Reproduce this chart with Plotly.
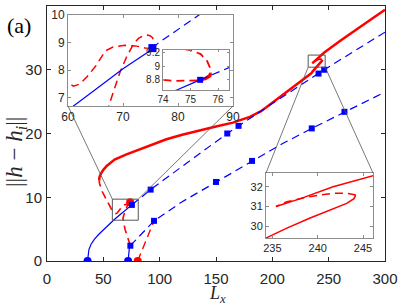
import plotly.graph_objects as go

W, H = 399, 307

# ---------------- data ----------------
# blue branch 1 (stable part, solid)
B1_SOLID_X = [36, 36.3, 37.2, 39, 42, 46, 50, 55, 60, 65, 70, 74.5, 75.35]
B1_SOLID_Y = [0, 1.0, 1.8, 2.6, 3.4, 4.2, 4.9, 5.75, 6.55, 7.3, 8.05, 8.65, 8.8]
# blue branch 1 (unstable part, dashed)
B1_DASH_X = [75.35, 76.4, 83.8, 92, 125, 160, 200, 246, 300]
B1_DASH_Y = [8.8, 8.98, 10.0, 11.2, 15.5, 20.0, 24.7, 30.0, 35.9]
B1_SQ_X = [75.35, 92, 160, 170, 241, 246]
B1_SQ_Y = [8.8, 11.2, 20.0, 21.2, 29.4, 30.0]

# blue branch 2
B2_SOLID_X = [72, 72.3, 73.0, 74]
B2_SOLID_Y = [0, 1.1, 1.9, 2.4]
B2_DASH_X = [74, 95, 120, 150, 182, 210, 235, 264, 300]
B2_DASH_Y = [2.4, 6.3, 9.3, 12.4, 15.7, 18.5, 20.8, 23.4, 26.5]
B2_SQ_X = [74, 95, 150, 182, 235, 264]
B2_SQ_Y = [2.4, 6.3, 12.4, 15.7, 20.8, 23.4]

BLUE_DOT_X = [36, 72]
BLUE_DOT_Y = [0, 0]

# red branch A (dashed, from Lx axis to lower blue branch)
RA_X = [80.5, 84, 88, 92, 95]
RA_Y = [0, 1.6, 3.3, 5.0, 6.3]
RED_DOT_X = [80.5, 73.8]
RED_DOT_Y = [0, 9.2]

# red branch B
R1_X = [74.0, 72.8, 71.0, 69.2, 68.0, 67.4, 68.3, 69.5, 70.7, 71.9, 72.8, 73.8, 74.5,
        75.0, 75.37, 75.6, 75.72, 75.74]
R1_Y = [2.4, 3.2, 4.0, 5.0, 5.9, 6.7, 7.27, 7.95, 8.5, 8.94, 9.15, 9.26, 9.27,
        9.24, 9.18, 9.08, 8.97, 8.9]
RS0_X = [75.74, 75.7, 75.55, 75.35]
RS0_Y = [8.9, 8.86, 8.82, 8.8]
R2_X = [75.25, 74.4, 74.0, 73.0, 72.2, 70.4, 68.3, 66.8, 65.0, 63.5, 62.2, 61.0, 60.0,
        59.0, 57.0, 55.0, 53.0, 51.0, 49.0, 47.5, 46.6, 46.3]
R2_Y = [8.79, 8.785, 8.8, 8.85, 8.88, 8.9, 8.85, 8.7, 8.14, 7.77, 7.5, 7.42, 7.54,
        7.75, 8.2, 8.8, 9.5, 10.2, 10.9, 11.6, 12.2, 12.6]
RS1_X = [46.3, 46.5, 47.5, 50, 53, 60, 70, 82, 95, 106, 120, 135, 150, 165, 180, 190,
         200, 212, 224, 230, 234.3, 236.6, 239.1, 241.7, 243.2, 244.0, 244.2]
RS1_Y = [12.6, 13.1, 13.6, 14.3, 14.9, 15.9, 16.7, 17.5, 18.4, 19.1, 19.8, 20.5, 21.1,
         21.7, 22.6, 23.5, 24.8, 26.5, 28.0, 28.8, 29.4, 29.9, 30.4, 30.9, 31.16, 31.4, 31.58]
R3_X = [244.2, 243.2, 241.7, 239.1, 236.6, 235.4]
R3_Y = [31.58, 31.67, 31.67, 31.5, 31.24, 31.0]
RS2_X = [235.4, 238.1, 241.7, 246.1, 260, 275, 290, 300]
RS2_Y = [31.0, 31.4, 32.0, 32.7, 34.5, 36.4, 38.2, 39.4]

# axes settings
MAIN_XR, MAIN_YR = [0, 300], [0, 40]
MAIN_XT, MAIN_YT = [0, 50, 100, 150, 200, 250, 300], [0, 10, 20, 30, 40]
IN1_XR, IN1_YR = [60, 90], [6.7, 10]
IN1_XT, IN1_YT = [60, 70, 80, 90], [7, 8, 9, 10]
IN2_XR, IN2_YR = [234.3, 246.1], [29.4, 32.7]
IN2_XT, IN2_YT = [235, 240, 245], [30, 31, 32]
IN3_XR, IN3_YR = [74, 76.4], [8.65, 9.24]
IN3_XT, IN3_YT = [74, 75, 76], [8.8, 9.0, 9.2]
IN3_YTT = ["8.8", "9", "9.2"]
BOX1_X, BOX1_Y = [58, 81], [6.4, 9.7]
BOX2_X, BOX2_Y = [231.8, 246.9], [30.4, 32.3]

# pixel domains
def dx(a, b):
    return [a / W, b / W]

def dy(top, bot):
    return [1 - bot / H, 1 - top / H]

MAIN_DX, MAIN_DY = dx(47, 385), dy(6, 261)
IN1_DX, IN1_DY = dx(68, 233), dy(15, 106)
IN2_DX, IN2_DY = dx(266, 373), dy(173, 238)
IN3_DX, IN3_DY = dx(163, 229), dy(50, 90)

BLUE = "#0000ff"
RED = "#ff0000"
DASH = "8px,5px"

fig = go.Figure()

AX = {"main": ("x", "y"), "in1": ("x2", "y2"), "in2": ("x3", "y3"), "in3": ("x4", "y4")}


def line(xs, ys, color, width, dash, axes):
    for a in axes:
        w = width[a] if isinstance(width, dict) else width
        fig.add_trace(go.Scatter(x=xs, y=ys, mode="lines", xaxis=AX[a][0], yaxis=AX[a][1],
                                 line=dict(color=color, width=w, dash=dash),
                                 showlegend=False, hoverinfo="skip"))


def marks(xs, ys, color, symbol, size, axes):
    for a in axes:
        s = size[a] if isinstance(size, dict) else size
        fig.add_trace(go.Scatter(x=xs, y=ys, mode="markers", xaxis=AX[a][0], yaxis=AX[a][1],
                                 marker=dict(color=color, symbol=symbol, size=s, line=dict(width=0)),
                                 cliponaxis=True, showlegend=False, hoverinfo="skip"))


ALL = ["main", "in1", "in2", "in3"]
NO2 = ["main", "in1", "in3"]
thick = {"main": 2.5, "in1": 2.5, "in2": 1.5, "in3": 3.5}
dsh = {"main": 1.6, "in1": 1.5, "in2": 1.5, "in3": 1.8}

# red curves
line(RA_X, RA_Y, RED, 1.4, DASH, ["main"])
line(R1_X, R1_Y, RED, dsh, DASH, NO2)
line(R2_X, R2_Y, RED, dsh, DASH, NO2)
line(R3_X, R3_Y, RED, dsh, DASH, ["main", "in2"])
line(RS0_X, RS0_Y, RED, thick, "solid", NO2)
line(RS1_X, RS1_Y, RED, thick, "solid", ALL)
line(RS2_X, RS2_Y, RED, thick, "solid", ALL)
# blue curves
line(B1_SOLID_X, B1_SOLID_Y, BLUE, 1.2, "solid", NO2)
line(B1_DASH_X, B1_DASH_Y, BLUE, 1.2, DASH, NO2)
line(B2_SOLID_X, B2_SOLID_Y, BLUE, 1.2, "solid", ["main"])
line(B2_DASH_X, B2_DASH_Y, BLUE, 1.2, DASH, ["main"])
# markers
marks(RED_DOT_X, RED_DOT_Y, RED, "circle", 8, ["main"])
marks(BLUE_DOT_X, BLUE_DOT_Y, BLUE, "circle", 8, ["main"])
marks(B1_SQ_X, B1_SQ_Y, BLUE, "square", {"main": 6, "in1": 8, "in3": 6}, NO2)
marks(B2_SQ_X, B2_SQ_Y, BLUE, "square", 6, ["main"])

AXC = "#262626"
GRAYF = "#8c8c8c"


def axis(dom, rng, tv, size, color, ticklen=4, tt=None, standoff=None):
    d = dict(domain=dom, range=rng, tickvals=tv, ticks="inside", ticklen=ticklen,
             tickcolor=color, tickwidth=1, showline=True, linecolor=color, linewidth=1,
             mirror="ticks", showgrid=False, zeroline=False, automargin=False,
             tickfont=dict(family="Liberation Sans, Arial", size=size, color=AXC))
    if tt is not None:
        d["ticktext"] = tt
    if standoff is not None:
        d["ticklabelstandoff"] = standoff
    return d


fig.update_layout(
    template="none",
    width=W, height=H, margin=dict(l=0, r=0, t=0, b=0, pad=0),
    paper_bgcolor="white", plot_bgcolor="white",
    xaxis=axis(MAIN_DX, MAIN_XR, MAIN_XT, 15, AXC, standoff=4),
    yaxis=axis(MAIN_DY, MAIN_YR, MAIN_YT, 15, AXC, standoff=1),
    xaxis2=dict(axis(IN1_DX, IN1_XR, IN1_XT, 12, GRAYF, 3), anchor="y2"),
    yaxis2=dict(axis(IN1_DY, IN1_YR, IN1_YT, 12, GRAYF, 3), anchor="x2"),
    xaxis3=dict(axis(IN2_DX, IN2_XR, IN2_XT, 11, GRAYF, 3), anchor="y3"),
    yaxis3=dict(axis(IN2_DY, IN2_YR, IN2_YT, 11, GRAYF, 3), anchor="x3"),
    xaxis4=dict(axis(IN3_DX, IN3_XR, IN3_XT, 10, GRAYF, 2), anchor="y4"),
    yaxis4=dict(axis(IN3_DY, IN3_YR, IN3_YT, 10, GRAYF, 2, IN3_YTT), anchor="x4"),
)


def px_(v, rng, dom):
    return dom[0] + (v - rng[0]) / (rng[1] - rng[0]) * (dom[1] - dom[0])


BOXC = "#555555"
shapes = [
    dict(type="rect", xref="x", yref="y", x0=BOX1_X[0], x1=BOX1_X[1], y0=BOX1_Y[0], y1=BOX1_Y[1],
         line=dict(color=BOXC, width=1)),
    dict(type="rect", xref="x", yref="y", x0=BOX2_X[0], x1=BOX2_X[1], y0=BOX2_Y[0], y1=BOX2_Y[1],
         line=dict(color=BOXC, width=1)),
]
# connectors box1 -> inset1
for bx, ix in [(BOX1_X[0], IN1_DX[0]), (BOX1_X[1], IN1_DX[1])]:
    shapes.append(dict(type="line", xref="paper", yref="paper",
                       x0=px_(bx, MAIN_XR, MAIN_DX), y0=px_(BOX1_Y[1], MAIN_YR, MAIN_DY),
                       x1=ix, y1=IN1_DY[0], line=dict(color=BOXC, width=0.8)))
for bx, ix in [(BOX2_X[0], IN2_DX[0]), (BOX2_X[1], IN2_DX[1])]:
    shapes.append(dict(type="line", xref="paper", yref="paper",
                       x0=px_(bx, MAIN_XR, MAIN_DX), y0=px_(BOX2_Y[0], MAIN_YR, MAIN_DY),
                       x1=ix, y1=IN2_DY[1], line=dict(color=BOXC, width=0.8)))
fig.update_layout(shapes=shapes)

SERIF = "Liberation Serif, DejaVu Serif, serif"
fig.add_annotation(text="(a)", x=19 / W, y=1 - 25 / H, xref="paper", yref="paper",
                   xanchor="center", yanchor="middle",
                   showarrow=False, font=dict(family=SERIF, size=22, color="black"))
fig.add_annotation(text="||<i>h</i> − <i>h<sub>i</sub></i>||", x=16 / W, y=1 - 152 / H,
                   xref="paper", yref="paper", textangle=-90, showarrow=False,
                   xanchor="center", yanchor="middle",
                   font=dict(family=SERIF, size=23, color=AXC))
fig.add_annotation(text="<i>L<sub>x</sub></i>", x=217 / W, y=1 - 294 / H,
                   xref="paper", yref="paper", showarrow=False,
                   xanchor="center", yanchor="middle",
                   font=dict(family=SERIF, size=18, color=AXC))

fig.write_html("out.html", config={"displayModeBar": False},
               post_script="document.body.style.margin='0px';")
